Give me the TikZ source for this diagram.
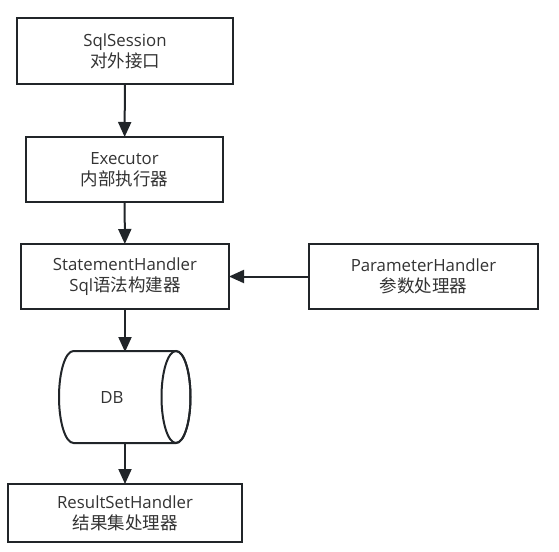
\documentclass[tikz,border=0pt]{standalone}
\usepackage{fontspec}
\setmainfont{Open Sans}
\newfontfamily\cjk{Noto Sans CJK SC}
\usetikzlibrary{arrows.meta}
\definecolor{edge}{RGB}{33,37,41}
\definecolor{txt}{RGB}{51,51,51}
\newcommand{\zh}[1]{{\cjk\fontsize{17.5}{21}\selectfont #1}}
\tikzset{
  boxnode/.style={draw=edge, line width=2pt, fill=white, align=center, inner sep=0pt,
    text=txt, font=\fontsize{16.8}{21}\selectfont},
  conn/.style={draw=edge, line width=2pt, -{Triangle[length=15pt,width=13pt]}, shorten >=-1pt}
}
\begin{document}
\begin{tikzpicture}[x=1pt,y=-1pt]
\useasboundingbox (0,0) rectangle (559,551);
\node[boxnode, minimum width=216pt, minimum height=66pt] (sess) at (125,51) {SqlSession\\\zh{对外接口}};
\node[boxnode, minimum width=197pt, minimum height=65pt] (exec) at (124.5,169.5) {Executor\\\zh{内部执行器}};
\node[boxnode, minimum width=208pt, minimum height=65pt] (stmt) at (125,276.5) {StatementHandler\\Sql\zh{语法构建器}};
\node[boxnode, minimum width=229pt, minimum height=65pt] (param) at (423.5,276.5) {ParameterHandler\\\zh{参数处理器}};
\node[boxnode, minimum width=234pt, minimum height=58pt] (res) at (125,513) {ResultSetHandler\\\zh{结果集处理器}};
% DB cylinder
\coordinate (dbtop) at (125,351);
\coordinate (dbbot) at (125,443);
\draw[edge, line width=2pt, fill=white] (73.5,351) -- (176,351)
  arc[start angle=90, end angle=-90, x radius=14.5, y radius=-46] -- (73.5,443)
  arc[start angle=-90, end angle=-270, x radius=14.5, y radius=-46] -- cycle;
\draw[edge, line width=2pt] (176,397) ellipse[x radius=14.5, y radius=46];
\node[text=txt, font=\fontsize{16.8}{21}\selectfont] (db) at (112,397) {DB};
\draw[conn] (sess) -- (exec);
\draw[conn] (exec) -- (stmt);
\draw[conn] (param) -- (stmt);
\draw[conn] (stmt) -- (dbtop);
\draw[conn] (dbbot) -- (res);
\end{tikzpicture}
\end{document}
